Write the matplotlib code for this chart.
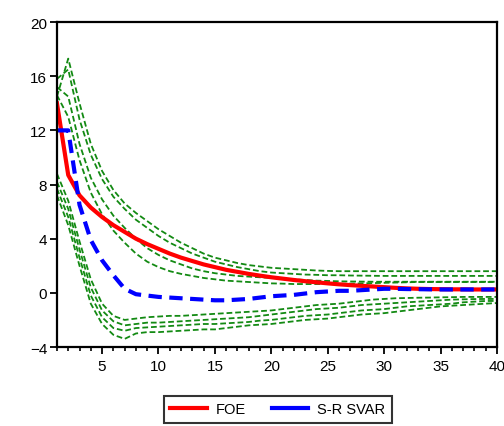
import numpy as np
import matplotlib
matplotlib.use("Agg")
import matplotlib.pyplot as plt
from matplotlib.ticker import MultipleLocator

plt.rcParams['font.family'] = ['Liberation Sans', 'DejaVu Sans']

# horizon 1..40
periods = np.arange(1, 41)

# point responses
foe = [14.0, 8.7, 7.2, 6.3, 5.6, 5.0, 4.5, 4.0, 3.6, 3.25,
       2.9, 2.6, 2.35, 2.1, 1.9, 1.7, 1.55, 1.4, 1.27, 1.15,
       1.05, 0.95, 0.86, 0.78, 0.7, 0.63, 0.57, 0.52, 0.47, 0.42,
       0.37, 0.33, 0.3, 0.28, 0.27, 0.26, 0.26, 0.25, 0.25, 0.25]
svar = [12.0, 12.0, 6.5, 3.9, 2.4, 1.3, 0.3, -0.1, -0.2, -0.3,
        -0.35, -0.4, -0.45, -0.5, -0.55, -0.55, -0.5, -0.45, -0.35, -0.25,
        -0.2, -0.15, -0.05, 0.05, 0.1, 0.15, 0.15, 0.2, 0.25, 0.3,
        0.3, 0.28, 0.27, 0.26, 0.25, 0.25, 0.25, 0.25, 0.25, 0.25]

# confidence bands (green dashed)
upper1 = [14.5, 17.3, 14.0, 11.0, 9.0, 7.6, 6.6, 5.9, 5.3, 4.7,
          4.2, 3.7, 3.3, 2.9, 2.6, 2.4, 2.2, 2.05, 1.95, 1.85,
          1.8, 1.75, 1.7, 1.65, 1.62, 1.6, 1.6, 1.6, 1.6, 1.6,
          1.6, 1.6, 1.6, 1.6, 1.6, 1.6, 1.6, 1.6, 1.6, 1.6]
upper2 = [15.8, 16.5, 12.8, 10.2, 8.4, 7.1, 6.2, 5.4, 4.8, 4.2,
          3.7, 3.3, 2.9, 2.6, 2.3, 2.1, 1.9, 1.75, 1.6, 1.5,
          1.45, 1.4, 1.35, 1.33, 1.3, 1.3, 1.28, 1.27, 1.26, 1.25,
          1.25, 1.25, 1.25, 1.25, 1.25, 1.25, 1.25, 1.25, 1.25, 1.25]
upper3 = [15.2, 14.5, 11.0, 8.5, 6.9, 5.7, 4.8, 4.0, 3.3, 2.8,
          2.4, 2.1, 1.8, 1.6, 1.45, 1.35, 1.25, 1.2, 1.15, 1.1,
          1.05, 1.0, 0.95, 0.9, 0.88, 0.85, 0.84, 0.83, 0.82, 0.82,
          0.82, 0.82, 0.82, 0.82, 0.82, 0.82, 0.82, 0.82, 0.82, 0.82]
upper4 = [14.6, 13.0, 9.8, 7.4, 5.8, 4.6, 3.7, 2.9, 2.3, 1.9,
          1.6, 1.4, 1.25, 1.1, 1.0, 0.9, 0.85, 0.8, 0.75, 0.7,
          0.68, 0.65, 0.65, 0.65, 0.65, 0.66, 0.68, 0.7, 0.72, 0.74,
          0.76, 0.78, 0.8, 0.8, 0.8, 0.8, 0.8, 0.8, 0.8, 0.8]
lower1 = [8.8, 6.8, 3.8, 1.0, -0.8, -1.7, -2.0, -1.9, -1.8, -1.75,
          -1.7, -1.7, -1.65, -1.6, -1.55, -1.5, -1.45, -1.4, -1.35, -1.3,
          -1.2, -1.1, -1.0, -0.9, -0.85, -0.8, -0.7, -0.6, -0.5, -0.45,
          -0.4, -0.38, -0.36, -0.35, -0.33, -0.32, -0.3, -0.3, -0.3, -0.3]
lower2 = [8.2, 6.2, 3.2, 0.4, -1.3, -2.1, -2.4, -2.3, -2.2, -2.2,
          -2.15, -2.1, -2.05, -2.0, -1.95, -1.9, -1.85, -1.8, -1.7, -1.6,
          -1.5, -1.4, -1.3, -1.2, -1.15, -1.1, -1.0, -0.9, -0.85, -0.8,
          -0.75, -0.7, -0.65, -0.6, -0.55, -0.5, -0.48, -0.46, -0.45, -0.45]
lower3 = [7.7, 5.6, 2.6, -0.2, -1.8, -2.6, -2.8, -2.6, -2.55, -2.5,
          -2.45, -2.4, -2.35, -2.3, -2.3, -2.25, -2.2, -2.15, -2.05, -2.0,
          -1.9, -1.8, -1.7, -1.65, -1.6, -1.5, -1.4, -1.3, -1.25, -1.2,
          -1.1, -1.0, -0.95, -0.9, -0.85, -0.8, -0.7, -0.65, -0.6, -0.6]
lower4 = [7.2, 5.0, 2.0, -0.8, -2.3, -3.1, -3.4, -3.0, -2.9, -2.9,
          -2.85, -2.8, -2.75, -2.7, -2.7, -2.6, -2.5, -2.4, -2.35, -2.3,
          -2.2, -2.1, -2.0, -1.95, -1.9, -1.8, -1.7, -1.6, -1.55, -1.5,
          -1.4, -1.3, -1.2, -1.1, -1.0, -0.95, -0.9, -0.85, -0.8, -0.75]

fig = plt.figure(figsize=(5.04, 4.27), dpi=100)
ax = fig.add_axes([0.113, 0.185, 0.873, 0.761])

for band in [upper1, upper2, upper3, upper4, lower1, lower2, lower3, lower4]:
    ax.plot(periods, band, color='#138a13', lw=1.3, dashes=(3.2, 1.6))

ax.plot(periods, foe, color='#ff0000', lw=3, label='FOE')
ax.plot(periods, svar, color='#0000ff', lw=3, dashes=(3.2, 1.8))

ax.set_xlim(1, 40)
ax.set_ylim(-4, 20)
ax.yaxis.set_major_locator(MultipleLocator(4))
ax.xaxis.set_major_locator(MultipleLocator(5))
ax.xaxis.set_minor_locator(MultipleLocator(1))
ax.tick_params(axis='both', which='major', direction='out', length=5, width=1.3, labelsize=11)
ax.tick_params(axis='x', which='minor', direction='out', length=3, width=1.2)
ax.tick_params(axis='y', pad=2)
for s in ax.spines.values():
    s.set_linewidth(1.6)

# legend shows solid lines
h1, = ax.plot([], [], color='#ff0000', lw=3)
h2, = ax.plot([], [], color='#0000ff', lw=3)
leg = fig.legend([h1, h2], ['FOE', 'S-R SVAR'], loc='upper center',
                 bbox_to_anchor=(0.551, 0.071), ncol=2, fontsize=10.5,
                 frameon=True, fancybox=False, edgecolor='black',
                 handlelength=2.5, handletextpad=0.6, columnspacing=1.8,
                 borderpad=0.45, borderaxespad=0)
leg.get_frame().set_linewidth(1.5)

fig.savefig('out.png', dpi=100)
